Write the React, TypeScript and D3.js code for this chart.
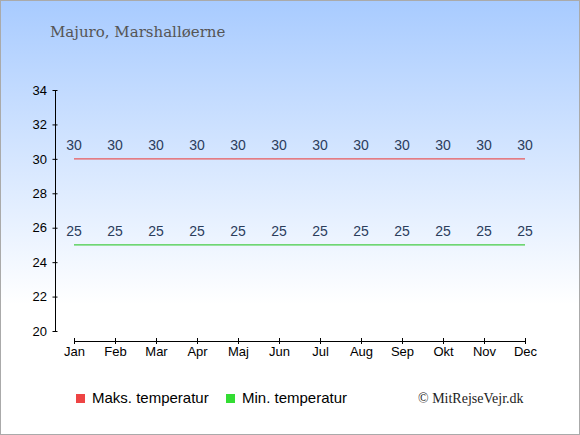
import React, { useEffect, useRef } from 'react';
import * as d3 from 'd3';

const months = ['Jan', 'Feb', 'Mar', 'Apr', 'Maj', 'Jun', 'Jul', 'Aug', 'Sep', 'Okt', 'Nov', 'Dec'];
const maxTemps = [30, 30, 30, 30, 30, 30, 30, 30, 30, 30, 30, 30];
const minTemps = [25, 25, 25, 25, 25, 25, 25, 25, 25, 25, 25, 25];
const yTicks = [20, 22, 24, 26, 28, 30, 32, 34];

const App: React.FC = () => {
  const ref = useRef<SVGSVGElement>(null);

  useEffect(() => {
    document.body.style.margin = '0';
    if (!ref.current) return;
    const svg = d3.select(ref.current);
    svg.selectAll('*').remove();

    const W = 580;
    const H = 435;

    // background gradient
    const defs = svg.append('defs');
    const grad = defs.append('linearGradient')
      .attr('id', 'bg')
      .attr('x1', 0).attr('y1', 0).attr('x2', 0).attr('y2', 1);
    grad.append('stop').attr('offset', '0%').attr('stop-color', '#a8cbff');
    grad.append('stop').attr('offset', '70%').attr('stop-color', '#ffffff');
    grad.append('stop').attr('offset', '100%').attr('stop-color', '#ffffff');

    svg.append('rect')
      .attr('x', 0.5).attr('y', 0.5)
      .attr('width', W - 1).attr('height', H - 1)
      .attr('fill', 'url(#bg)')
      .attr('stroke', '#aaaaaa');

    // title
    svg.append('text')
      .attr('x', 50).attr('y', 37)
      .attr('font-family', '"DejaVu Serif", "Liberation Serif", serif')
      .attr('font-size', 15)
      .attr('fill', '#555555')
      .text('Majuro, Marshalløerne');

    const x = d3.scalePoint<string>().domain(months).range([74, 525]);
    const y = d3.scaleLinear().domain([20, 34]).range([331, 90]);

    // y axis
    const yAxis = svg.append('g')
      .attr('transform', 'translate(55,0)')
      .call(d3.axisLeft(y).tickValues(yTicks).tickSize(3).tickSizeOuter(0));
    yAxis.select('.domain').attr('stroke', '#000');
    yAxis.selectAll('.tick line').attr('x2', 2.5).attr('x1', -2.5).attr('stroke', '#000');
    yAxis.selectAll('.tick text')
      .attr('x', -8)
      .attr('font-family', '"Liberation Sans", Arial, sans-serif')
      .attr('font-size', 13)
      .attr('fill', '#000');

    // x axis
    const xAxis = svg.append('g')
      .attr('transform', 'translate(0,341)')
      .call(d3.axisBottom(x).tickSize(3).tickSizeOuter(0));
    xAxis.select('.domain').attr('stroke', '#000');
    xAxis.selectAll('.tick line').attr('y1', -3).attr('y2', 3).attr('stroke', '#000');
    xAxis.selectAll('.tick text')
      .attr('y', 6)
      .attr('font-family', '"Liberation Sans", Arial, sans-serif')
      .attr('font-size', 13)
      .attr('fill', '#000');

    const series = [
      { values: maxTemps, color: '#e8585a' },
      { values: minTemps, color: '#44cc44' },
    ];

    series.forEach(s => {
      const line = d3.line<number>()
        .x((_, i) => x(months[i]) as number)
        .y(d => y(d));
      svg.append('path')
        .datum(s.values)
        .attr('d', line)
        .attr('fill', 'none')
        .attr('stroke', s.color)
        .attr('stroke-width', 1.2);

      svg.selectAll(null)
        .data(s.values)
        .enter()
        .append('text')
        .attr('x', (_, i) => x(months[i]) as number)
        .attr('y', d => y(d) - 9)
        .attr('text-anchor', 'middle')
        .attr('font-family', '"Liberation Sans", Arial, sans-serif')
        .attr('font-size', 14)
        .attr('fill', '#2b3d5c')
        .text(d => d);
    });

    // legend
    const legend = [
      { label: 'Maks. temperatur', color: '#ee4444', x: 76 },
      { label: 'Min. temperatur', color: '#33dd33', x: 226 },
    ];
    legend.forEach(l => {
      svg.append('rect')
        .attr('x', l.x).attr('y', 394)
        .attr('width', 9).attr('height', 9)
        .attr('fill', l.color);
      svg.append('text')
        .attr('x', l.x + 16).attr('y', 403)
        .attr('font-family', '"Liberation Sans", Arial, sans-serif')
        .attr('font-size', 15)
        .attr('fill', '#000')
        .text(l.label);
    });

    svg.append('text')
      .attr('x', 418).attr('y', 403)
      .attr('font-family', '"Liberation Serif", "Times New Roman", serif')
      .attr('font-size', 14)
      .attr('fill', '#222')
      .text('© MitRejseVejr.dk');
  }, []);

  return (
    <svg
      ref={ref}
      width={580}
      height={435}
      style={{ position: 'absolute', left: 0, top: 0, display: 'block' }}
    />
  );
};

export default App;
